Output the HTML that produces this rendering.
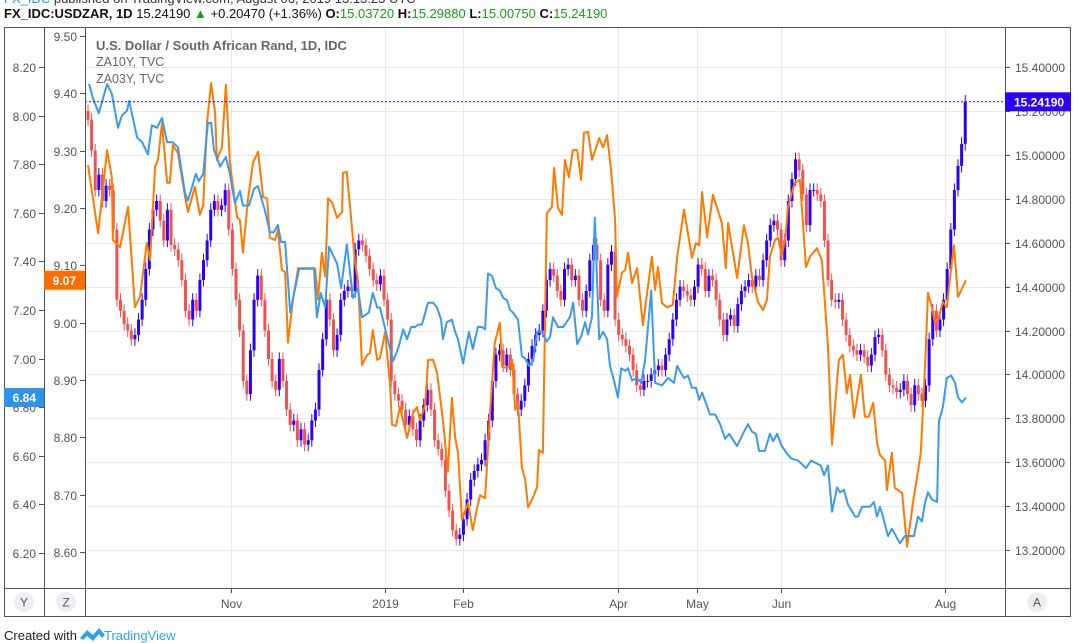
<!DOCTYPE html>
<html><head><meta charset="utf-8"><style>
body{margin:0;width:1080px;height:643px;background:#fff;overflow:hidden;font-family:"Liberation Sans",sans-serif;}
svg{position:absolute;left:0;top:0}
</style></head><body>
<svg id="c" width="1080" height="643" xmlns="http://www.w3.org/2000/svg">
<text x="4" y="3" font-size="13" fill="#333"><tspan fill="#2196f3">FX_IDC</tspan> published on TradingView.com, August 06, 2019 13:13:23 UTC</text>
<text x="4" y="18" font-size="13" fill="#111"><tspan font-weight="bold">FX_IDC:USDZAR, 1D</tspan> 15.24190 <tspan fill="#1a9a1a">▲</tspan> +0.20470 (+1.36%) <tspan font-weight="bold">O:</tspan><tspan fill="#1a9a1a">15.03720</tspan> <tspan font-weight="bold">H:</tspan><tspan fill="#1a9a1a">15.29880</tspan> <tspan font-weight="bold">L:</tspan><tspan fill="#1a9a1a">15.00750</tspan> <tspan font-weight="bold">C:</tspan><tspan fill="#1a9a1a">15.24190</tspan></text>
<g id="grid"></g>
<g id="series"></g>
<g id="frame" fill="none" stroke="#50535e" stroke-width="1">
<rect x="4.5" y="27.5" width="1066" height="589"/>
<line x1="44.5" y1="27" x2="44.5" y2="616"/><line x1="85.5" y1="27" x2="85.5" y2="616"/>
<line x1="1005.5" y1="27" x2="1005.5" y2="616"/><line x1="4" y1="588.5" x2="1071" y2="588.5"/>
</g>
<g id="axes" font-size="12" fill="#555"></g>
<text x="96" y="50" font-size="13" font-weight="bold" fill="#666">U.S. Dollar / South African Rand, 1D, IDC</text>
<text x="96" y="66" font-size="12.5" fill="#666">ZA10Y, TVC</text>
<text x="96" y="83" font-size="12.5" fill="#666">ZA03Y, TVC</text>
<g><circle cx="24" cy="602" r="10" fill="#eceef2"/><text x="24" y="606.5" font-size="12" fill="#555" text-anchor="middle">Y</text></g>
<g><circle cx="66" cy="602" r="10" fill="#eceef2"/><text x="66" y="606.5" font-size="12" fill="#555" text-anchor="middle">Z</text></g>
<g><circle cx="1037" cy="602" r="10" fill="#eceef2"/><text x="1037" y="606.5" font-size="12" fill="#555" text-anchor="middle">A</text></g>
<g>
<text x="4" y="640" font-size="13" fill="#222">Created with</text>
<path d="M80 638 l7 -8 l6 5 l6 -7 l6 7 l-3 3 l-3 -4 l-6 7 l-6 -5 l-4 4z" fill="#2ea3ea"/>
<text x="104" y="640" font-size="13" fill="#2ea3ea">TradingView</text></g>
</svg>
<script>
const closes=[15.16,15.02,14.84,14.91,14.79,14.86,14.84,14.66,14.34,14.29,14.23,14.20,14.16,14.18,14.25,14.34,14.48,14.66,14.75,14.79,14.70,14.61,14.75,14.59,14.57,14.52,14.43,14.29,14.25,14.34,14.29,14.43,14.52,14.61,14.75,14.79,14.75,14.77,14.84,14.66,14.48,14.34,14.20,13.97,13.91,14.11,14.34,14.45,14.34,14.20,14.07,13.97,13.93,14.07,13.97,13.84,13.77,13.79,13.70,13.75,13.68,13.70,13.79,13.84,14.02,14.16,14.34,14.25,14.11,14.18,14.34,14.38,14.40,14.38,14.57,14.61,14.59,14.54,14.48,14.43,14.41,14.45,14.34,14.25,13.97,13.91,13.88,13.84,13.77,13.81,13.75,13.70,13.79,13.86,13.93,13.84,13.70,13.66,13.61,13.47,13.38,13.29,13.25,13.27,13.34,13.43,13.52,13.56,13.59,13.61,13.70,13.79,13.97,14.09,14.11,14.04,14.09,14.02,13.91,13.84,13.88,13.95,14.07,14.13,14.18,14.20,14.29,14.43,14.48,14.45,14.38,14.34,14.48,14.50,14.43,14.45,14.34,14.29,14.38,14.52,14.59,14.52,14.34,14.29,14.50,14.56,14.25,14.18,14.16,14.13,14.09,14.02,13.95,13.93,13.97,13.97,14.00,14.02,14.04,14.02,14.09,14.16,14.25,14.34,14.40,14.38,14.36,14.34,14.40,14.50,14.48,14.38,14.45,14.43,14.34,14.25,14.18,14.25,14.27,14.22,14.32,14.38,14.40,14.43,14.40,14.45,14.43,14.52,14.61,14.68,14.70,14.66,14.52,14.61,14.79,14.89,14.98,14.93,14.82,14.68,14.84,14.84,14.82,14.79,14.61,14.43,14.34,14.33,14.34,14.25,14.18,14.13,14.11,14.09,14.11,14.08,14.04,14.09,14.17,14.18,14.11,14.00,13.95,13.94,13.92,13.93,13.97,13.91,13.86,13.95,13.91,13.88,13.95,14.16,14.29,14.20,14.25,14.34,14.48,14.66,14.84,14.95,15.05,15.2419];
const firstOpen=15.20;
const wickPad=0.03;
const za10Idx=[0,2.8,5.3,6.6,6.9,8.9,11.1,13.0,14.4,16.3,17.2,18.6,19.4,20.5,21.9,22.7,23.5,24.9,26.9,27.7,29.6,31.0,31.9,33.0,34.1,35.2,35.7,37.1,38.2,39.3,41.3,42.1,42.9,44.3,45.7,47.1,48.5,49.6,50.4,51.8,52.6,53.7,54.6,55.4,56.8,58.2,62.9,63.7,64.8,65.7,66.5,67.6,69.0,70.4,70.6,71.7,73.1,74.0,74.8,75.9,77.3,78.1,78.9,80.1,80.9,82.3,83.7,84.2,85.3,86.4,88.4,90.0,91.1,92.0,93.4,94.2,95.6,96.7,98.3,99.7,100.8,101.7,102.5,103.6,104.4,105.3,106.6,107.8,108.6,110.0,111.4,112.7,114.1,114.7,116.1,117.5,118.3,119.1,120.2,121.1,121.9,123.0,124.4,124.9,126.0,127.1,128.5,129.1,130.2,131.3,132.1,133.2,134.3,135.5,136.6,137.4,138.5,139.6,141.6,142.7,143.8,144.9,146.0,146.5,147.9,148.8,149.6,150.7,152.1,153.7,156.2,157.1,157.9,159.0,160.4,162.0,163.2,165.1,167.3,168.4,169.3,170.1,171.5,173.1,175.6,176.7,177.3,179.8,181.7,182.8,183.9,185.6,187.0,188.1,188.9,190.3,191.1,192.2,193.1,193.9,195.8,197.2,198.9,200.0,201.9,203.3,204.2,205.0,206.1,207.5,208.0,209.1,210.2,211.1,212.2,214.1,215.2,216.3,217.5,218.6,219.4,220.8,221.3,222.7,223.5,225.5,226.9,228.5,230.7,231.9,232.7,233.8,234.6,235.7,236.8,237.9,239.1,239.9,241.0,243.2];
const za10Val=[9.275,9.156,9.301,9.254,9.144,9.132,9.202,9.027,9.045,9.139,9.109,9.272,9.284,9.348,9.244,9.244,9.310,9.296,9.219,9.193,9.237,9.188,9.205,9.350,9.418,9.366,9.284,9.306,9.415,9.279,9.184,9.179,9.122,9.214,9.279,9.298,9.219,9.217,9.148,9.144,9.162,9.092,9.088,8.965,9.040,9.095,9.095,9.040,9.122,9.080,9.217,9.210,9.183,9.193,9.261,9.263,9.167,9.104,9.074,8.926,8.944,8.947,8.987,8.935,8.938,8.984,8.888,8.822,8.820,8.853,8.799,8.842,8.853,8.830,8.856,8.935,8.935,8.912,8.830,8.740,8.869,8.801,8.773,8.656,8.670,8.686,8.638,8.678,8.699,8.694,8.848,8.965,9.000,8.923,8.921,8.935,8.848,8.860,8.748,8.726,8.678,8.691,8.713,8.778,8.773,9.191,9.202,9.270,9.200,9.188,9.284,9.254,9.301,9.301,9.249,9.331,9.333,9.284,9.322,9.306,9.327,9.266,9.179,9.045,9.087,9.092,9.122,9.069,9.095,8.996,9.115,9.057,9.097,9.034,9.027,9.031,9.115,9.197,9.113,9.139,9.135,9.228,9.149,9.223,9.174,9.095,9.174,9.078,9.170,9.139,9.080,9.036,9.022,9.040,9.115,9.144,9.148,9.118,9.144,9.202,9.244,9.249,9.097,9.115,9.130,9.109,9.027,8.958,8.787,8.900,8.935,8.944,8.877,8.909,8.834,8.909,8.836,8.836,8.860,8.790,8.769,8.760,8.708,8.773,8.712,8.703,8.609,8.685,8.773,8.930,9.052,9.027,9.000,9.010,9.036,9.027,9.097,9.135,9.045,9.074];
const za03Idx=[0.3,1.4,3.0,5.3,6.6,8.3,9.4,10.8,11.4,13.6,15.0,16.6,17.7,19.1,20.5,21.9,23.5,24.9,26.9,27.7,29.9,30.7,31.9,33.2,34.1,34.9,36.6,38.2,39.3,40.7,42.1,42.9,44.6,46.0,47.1,49.0,50.4,51.5,52.6,53.5,54.6,56.0,58.5,62.6,63.4,64.5,65.7,66.8,69.0,70.1,71.7,73.4,74.8,75.9,77.8,78.9,80.1,80.9,84.5,85.9,87.3,88.4,89.5,90.6,91.4,92.5,94.2,95.6,96.7,97.8,98.3,99.4,100.8,101.7,102.5,103.9,105.0,105.5,106.6,108.0,109.1,110.0,110.8,111.9,113.0,114.1,115.0,116.1,116.9,117.7,119.1,120.2,121.1,122.2,123.3,124.4,125.8,127.1,128.0,128.8,130.2,131.6,133.5,134.4,135.5,136.6,137.7,138.5,139.6,140.4,141.6,142.7,143.8,144.6,145.7,146.8,147.7,148.8,149.6,150.7,152.1,153.2,154.3,156.0,157.1,159.0,160.7,162.3,163.2,164.3,165.1,166.2,167.3,168.4,169.3,170.1,172.3,173.7,175.1,176.5,177.6,179.8,181.4,182.8,183.9,185.0,185.9,187.5,188.9,189.8,190.9,192.2,193.6,194.7,196.7,198.9,200.3,203.0,203.9,205.0,206.1,207.5,208.3,209.4,210.5,212.5,213.3,214.4,216.6,217.7,218.6,219.4,220.2,221.6,222.7,224.9,226.3,227.7,228.8,229.9,231.0,231.9,232.7,233.8,235.2,235.7,236.8,237.9,239.1,240.2,241.0,242.1,243.2];
const za03Val=[8.13,8.07,8.01,8.13,8.09,7.95,8.00,8.02,8.06,7.91,7.89,7.84,7.96,7.95,7.99,7.89,7.89,7.87,7.68,7.65,7.76,7.73,7.76,7.97,7.97,7.86,7.79,7.83,7.76,7.64,7.69,7.63,7.63,7.70,7.71,7.61,7.52,7.52,7.55,7.48,7.48,7.19,7.37,7.37,7.17,7.27,7.21,7.46,7.39,7.29,7.47,7.25,7.29,7.17,7.19,7.27,7.21,7.21,6.99,7.04,7.12,7.08,7.13,7.13,7.14,7.14,7.23,7.23,7.21,7.16,7.08,7.15,7.16,7.11,7.08,6.98,7.07,7.11,7.04,7.13,7.13,7.12,7.35,7.34,7.29,7.28,7.25,7.24,7.20,7.19,7.16,7.01,7.00,6.97,6.99,7.11,7.11,7.07,7.09,7.17,7.13,7.13,7.17,7.23,7.06,7.09,7.15,7.10,7.17,7.58,7.08,7.11,7.08,6.97,6.91,6.84,6.96,6.95,6.96,6.91,6.92,6.90,6.99,7.28,6.90,6.89,6.92,6.90,6.97,6.94,6.92,6.93,6.88,6.88,6.83,6.86,6.77,6.77,6.73,6.67,6.69,6.64,6.69,6.73,6.70,6.69,6.62,6.62,6.69,6.66,6.69,6.64,6.61,6.59,6.58,6.55,6.58,6.56,6.52,6.56,6.37,6.47,6.45,6.46,6.40,6.35,6.35,6.39,6.39,6.41,6.35,6.39,6.35,6.27,6.30,6.24,6.27,6.27,6.27,6.35,6.33,6.41,6.45,6.42,6.41,6.74,6.80,6.92,6.93,6.90,6.84,6.82,6.84];
const priceTicks=["15.40000","15.20000","15.00000","14.80000","14.60000","14.40000","14.20000","14.00000","13.80000","13.60000","13.40000","13.20000"];
const za10Ticks=["9.50","9.40","9.30","9.20","9.10","9.00","8.90","8.80","8.70","8.60"];
const za03Ticks=["8.20","8.00","7.80","7.60","7.40","7.20","7.00","6.80","6.60","6.40","6.20"];
const monthLabels=["Nov","2019","Feb","Apr","May","Jun","Aug"];
const monthIdx=[39.6,82.3,103.9,146.8,168.7,192.0,237.4];

const NS="http://www.w3.org/2000/svg";
const xS=i=>88+i*3.61;
const yP=p=>550-(p-13.2)*219.5;
const y10=v=>552-(v-8.6)*573.3;
const y03=v=>553-(v-6.2)*243;
function mk(tag,attrs,parent){const e=document.createElementNS(NS,tag);for(const k in attrs)e.setAttribute(k,attrs[k]);parent.appendChild(e);return e;}
const grid=document.getElementById('grid'),ser=document.getElementById('series'),ax=document.getElementById('axes');
priceTicks.forEach(t=>{const y=Math.round(yP(+t))+0.5;
 const g=mk('line',{x1:85,x2:1005,y1:y,y2:y,stroke:'#e3ebf1'},grid);
 
 
 mk('line',{x1:1005,x2:1010,y1:y,y2:y,stroke:'#50535e'},ax);
 const tx=mk('text',{x:1015,y:y+4.5},ax);tx.textContent=t;
 
 });
monthLabels.forEach((m,k)=>{const x=Math.round(xS(monthIdx[k]))+0.5;
 const g=mk('line',{x1:x,x2:x,y1:27,y2:588,stroke:'#e3ebf1'},grid);
 
 
 mk('line',{x1:x,x2:x,y1:588,y2:593,stroke:'#50535e'},ax);
 const tx=mk('text',{x:x,y:608,'text-anchor':'middle'},ax);tx.textContent=m;
 
 });
za10Ticks.forEach(t=>{const y=Math.round(y10(+t))+0.5;
 mk('line',{x1:80,x2:85,y1:y,y2:y,stroke:'#50535e'},ax);
 const tx=mk('text',{x:77,y:y+4.5,'text-anchor':'end'},ax);tx.textContent=t;
 
 });
za03Ticks.forEach(t=>{const y=Math.round(y03(+t))+0.5;
 mk('line',{x1:39,x2:44,y1:y,y2:y,stroke:'#50535e'},ax);
 const tx=mk('text',{x:36,y:y+4.5,'text-anchor':'end'},ax);tx.textContent=t;
 
 });
// candles
closes.forEach((c,i)=>{const o=i?closes[i-1]:firstOpen;const up=c>=o;const col=up?'#2b00ff':'#ef5350';
 const x=xS(i);const hi=Math.max(o,c)+wickPad,lo=Math.min(o,c)-wickPad;
 const g=mk('g',{},ser);
 
 
 mk('line',{x1:x,x2:x,y1:yP(hi),y2:yP(lo),stroke:col,'stroke-width':1},g);
 const t=Math.min(yP(o),yP(c));mk('rect',{x:x-1.5,y:t,width:3,height:Math.max(1,Math.abs(yP(o)-yP(c))),fill:col},g);});
function line(idx,val,ys,col,name){const d=idx.map((t,k)=>(k?'L':'M')+xS(t).toFixed(1)+' '+ys(val[k]).toFixed(1)).join(' ');
 const p=mk('path',{d:d,fill:'none',stroke:col,'stroke-width':2,'stroke-linejoin':'round'},ser);
 
 }
line(za10Idx,za10Val,y10,'#ff7a00','za10y-line');
line(za03Idx,za03Val,y03,'#3b9af0','za03y-line');
// last price line & labels
const lp=closes[closes.length-1],ly=yP(lp);
const dl=mk('line',{x1:85,x2:1005,y1:ly,y2:ly,stroke:'#2b00ff','stroke-dasharray':'2,2'},ser);


const svg=document.getElementById('c');
function badge(x,w,y,col,txt,name,anchor,tx){const g=mk('g',{},svg);
 
 
 mk('rect',{x:x,y:y-9.5,width:w,height:19,fill:col},g);
 const t=mk('text',{x:tx,y:y+4.5,'font-size':12,'font-weight':'bold',fill:'#fff','text-anchor':anchor},g);t.textContent=txt;}
badge(1005,66,ly,'#2b00ff',lp.toFixed(5),'last-price-badge','start',1014);
const l10=za10Val[za10Val.length-1],l03=za03Val[za03Val.length-1];
badge(44,41,y10(l10),'#ff6d00',l10.toFixed(2),'za10y-last-badge','end',76);
badge(4,40,y03(l03),'#2f93ee',l03.toFixed(2),'za03y-last-badge','end',36);
</script>
</body></html>
